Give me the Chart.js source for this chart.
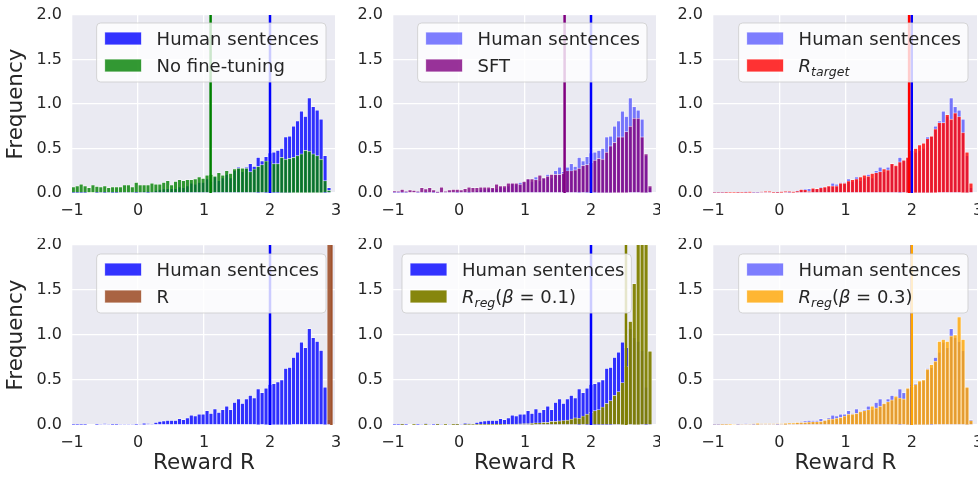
<!DOCTYPE html>
<html>
<head>
<meta charset="utf-8">
<title>Reward histograms</title>
<script src="https://cdn.jsdelivr.net/npm/chart.js@4.4.0/dist/chart.umd.min.js"></script>
<style>
  html, body { margin: 0; padding: 0; background: #fff; overflow: hidden; }
  #wrap { position: relative; width: 978px; height: 477px; }
  canvas { position: absolute; }
</style>
</head>
<body>
<div id="wrap">
  <canvas id="p1" width="340" height="238" style="left:0px;top:0px"></canvas>
  <canvas id="p2" width="320" height="238" style="left:340px;top:0px"></canvas>
  <canvas id="p3" width="318" height="238" style="left:660px;top:0px"></canvas>
  <canvas id="p4" width="340" height="239" style="left:0px;top:238px"></canvas>
  <canvas id="p5" width="320" height="239" style="left:340px;top:238px"></canvas>
  <canvas id="p6" width="318" height="239" style="left:660px;top:238px"></canvas>
</div>
<script>
// histogram bins (66 bins)
const BIN_START = -1.01;
const BIN_WIDTH = 0.0596;
const X_TICKS = [-1, 0, 1, 2, 3];
const Y_TICKS = [0, 0.5, 1, 1.5, 2];

const human = [
  0.005, 0.005, 0.005, 0.005, 0, 0, 0.005, 0.01, 0.015, 0.01,
  0.005, 0.005, 0.01, 0.01, 0.01, 0.01, 0.005, 0.01, 0.02, 0.015,
  0.01, 0.03, 0.04, 0.045, 0.05, 0.05, 0.05, 0.07, 0.06, 0.08,
  0.11, 0.10, 0.12, 0.12, 0.16, 0.13, 0.18, 0.14, 0.17, 0.21,
  0.17, 0.25, 0.29, 0.24, 0.29, 0.33, 0.30, 0.40, 0.36, 0.41,
  0.45, 0.46, 0.48, 0.50, 0.63, 0.64, 0.75, 0.81, 0.92, 0.86,
  1.07, 0.97, 0.93, 0.83, 0.42, 0.06
];
const noFineTuning = [
  0.07, 0.08, 0.10, 0.08, 0.06, 0.09, 0.075, 0.07, 0.08, 0.06,
  0.07, 0.07, 0.07, 0.09, 0.09, 0.07, 0.12, 0.09, 0.09, 0.09,
  0.11, 0.10, 0.10, 0.12, 0.14, 0.09, 0.13, 0.15, 0.14, 0.15,
  0.15, 0.16, 0.18, 0.165, 0.20, 0.21, 0.19, 0.23, 0.20, 0.25,
  0.22, 0.27, 0.28, 0.28, 0.28, 0.24, 0.27, 0.30, 0.32, 0.36,
  0.36, 0.33, 0.33, 0.40, 0.38, 0.39, 0.40, 0.42, 0.44, 0.48,
  0.47, 0.44, 0.42, 0.38, 0.14, 0.03
];
const sft = [
  0.025, 0.02, 0.04, 0.02, 0.035, 0.03, 0.02, 0.06, 0.045, 0.06,
  0.035, 0.015, 0.065, 0.02, 0.035, 0.04, 0.04, 0.035, 0.05, 0.065,
  0.06, 0.06, 0.065, 0.065, 0.065, 0.06, 0.10, 0.08, 0.08, 0.11,
  0.11, 0.11, 0.10, 0.13, 0.16, 0.16, 0.15, 0.20, 0.17, 0.19,
  0.21, 0.21, 0.21, 0.22, 0.25, 0.25, 0.26, 0.28, 0.31, 0.32,
  0.34, 0.37, 0.39, 0.38, 0.46, 0.53, 0.57, 0.63, 0.63, 0.69,
  0.75, 0.84, 0.84, 0.63, 0.44, 0.08
];
const rTarget = [
  0.007, 0.007, 0.007, 0.005, 0.005, 0.003, 0.003, 0.005, 0.005, 0.015,
  0.01, 0.01, 0.012, 0.02, 0.02, 0.008, 0.008, 0.015, 0.02, 0.02,
  0.015, 0.025, 0.04, 0.037, 0.02, 0.055, 0.05, 0.06, 0.07, 0.08,
  0.08, 0.08, 0.11, 0.11, 0.135, 0.15, 0.16, 0.18, 0.20, 0.19,
  0.22, 0.23, 0.24, 0.27, 0.26, 0.33, 0.31, 0.35, 0.37, 0.40,
  0.48, 0.50, 0.54, 0.56, 0.61, 0.64, 0.72, 0.79, 0.79, 0.88,
  0.83, 0.90, 0.86, 0.68, 0.46, 0.11
];
const rPlain = [
  0, 0, 0, 0, 0, 0, 0, 0, 0, 0,
  0, 0, 0, 0, 0, 0, 0, 0, 0, 0,
  0, 0, 0, 0, 0, 0, 0, 0, 0, 0,
  0, 0, 0, 0, 0, 0, 0, 0, 0, 0,
  0, 0, 0, 0, 0, 0, 0, 0, 0, 0,
  0, 0, 0, 0, 0, 0, 0, 0, 0, 0,
  0, 0, 0, 0, 0, 16.5
];
const rReg01 = [
  0, 0, 0.002, 0, 0, 0.002, 0, 0, 0.002, 0,
  0, 0.002, 0, 0.002, 0, 0.002, 0.002, 0, 0.003, 0.003,
  0.003, 0.003, 0.004, 0.004, 0.005, 0.005, 0.005, 0.005, 0.007, 0.008,
  0.008, 0.01, 0.012, 0.015, 0.015, 0.02, 0.025, 0.025, 0.03, 0.03,
  0.04, 0.04, 0.045, 0.05, 0.055, 0.065, 0.08, 0.075, 0.10, 0.12,
  0.14, 0.16, 0.17, 0.20, 0.24, 0.27, 0.33, 0.37, 0.47, 0.65,
  1.15, 1.57, 2.3, 2.6, 2.6, 0.82
];
const rReg03 = [
  0.008, 0.008, 0.005, 0.005, 0.005, 0.008, 0.008, 0.01, 0.008, 0.01,
  0.012, 0.02, 0.012, 0.015, 0.015, 0.012, 0.015, 0.015, 0.02, 0.022,
  0.022, 0.03, 0.03, 0.03, 0.034, 0.037, 0.037, 0.04, 0.052, 0.064,
  0.067, 0.075, 0.085, 0.10, 0.12, 0.12, 0.13, 0.15, 0.16, 0.17,
  0.21, 0.19, 0.21, 0.24, 0.26, 0.28, 0.32, 0.30, 0.29, 0.41,
  0.43, 0.45, 0.49, 0.50, 0.62, 0.67, 0.71, 0.93, 0.95, 0.93,
  0.99, 1.00, 1.20, 0.95, 0.42, 0.05
];

// mean reward lines
const humanMean = 2.0;
const meanNoFineTuning = 1.1;
const meanSft = 1.6;
const meanTarget = 1.96;
const meanPlain = 2.93;
const meanReg01 = 2.53;
const meanReg03 = 2.0;

const TEXT = '#262626';
const FONT = "'DejaVu Sans', sans-serif";
Chart.defaults.font.family = FONT;
Chart.defaults.color = TEXT;

const binCenters = human.map((_, i) => BIN_START + BIN_WIDTH * (i + 0.5));
const toPoints = arr => arr.map((v, i) => ({x: binCenters[i], y: v}));

const panels = [
  {id: 'p1', values: noFineTuning, mean: meanNoFineTuning, fill: 'rgba(0,128,0,0.8)', line: '#008000',
   label: [{t: 'No fine-tuning'}], humanFill: 'rgba(0,0,255,0.8)', loc: 'right',
   yW: 72, padR: 4, top: 15, xH: 45, yTitle: true, xTitle: false},
  {id: 'p2', values: sft, mean: meanSft, fill: 'rgba(128,0,128,0.8)', line: '#800080',
   label: [{t: 'SFT'}], humanFill: 'rgba(0,0,255,0.5)', loc: 'right',
   yW: 53, padR: 3, top: 15, xH: 45, yTitle: false, xTitle: false},
  {id: 'p3', values: rTarget, mean: meanTarget, fill: 'rgba(255,0,0,0.8)', line: '#ff0000',
   label: [{t: 'R', i: true}, {t: 'target', i: true, sub: true}], humanFill: 'rgba(0,0,255,0.5)', loc: 'right',
   yW: 53, padR: 0, top: 15, xH: 45, yTitle: false, xTitle: false},
  {id: 'p4', values: rPlain, mean: meanPlain, fill: 'rgba(160,82,45,0.9)', line: '#a0522d',
   label: [{t: 'R'}], humanFill: 'rgba(0,0,255,0.8)', loc: 'right',
   yW: 72, padR: 4, top: 7, xH: 52, yTitle: true, xTitle: true},
  {id: 'p5', values: rReg01, mean: meanReg01, fill: 'rgba(128,128,0,0.95)', line: '#808000',
   label: [{t: 'R', i: true}, {t: 'reg', i: true, sub: true}, {t: '('}, {t: 'β', i: true}, {t: ' = 0.1)'}],
   humanFill: 'rgba(0,0,255,0.8)', loc: 'left',
   yW: 53, padR: 3, top: 7, xH: 52, yTitle: false, xTitle: true},
  {id: 'p6', values: rReg03, mean: meanReg03, fill: 'rgba(255,165,0,0.8)', line: '#ffa500',
   label: [{t: 'R', i: true}, {t: 'reg', i: true, sub: true}, {t: '('}, {t: 'β', i: true}, {t: ' = 0.3)'}],
   humanFill: 'rgba(0,0,255,0.5)', loc: 'right',
   yW: 53, padR: 0, top: 7, xH: 52, yTitle: false, xTitle: true}
];

const plotBg = {
  id: 'plotBg',
  beforeDraw(chart) {
    const {ctx, chartArea: a} = chart;
    ctx.save();
    ctx.fillStyle = '#eaeaf2';
    ctx.fillRect(a.left, a.top, a.right - a.left, a.bottom - a.top);
    ctx.restore();
  }
};

const LEGEND_SIZE = 18;
function partFont(p) {
  return (p.i ? 'italic ' : '') + (p.sub ? 12.5 : LEGEND_SIZE) + 'px ' + FONT;
}
function partsWidth(ctx, parts) {
  let w = 0;
  parts.forEach(p => { ctx.font = partFont(p); w += ctx.measureText(p.t).width; });
  return w;
}
function drawParts(ctx, parts, x, y) {
  parts.forEach(p => {
    ctx.font = partFont(p);
    ctx.fillText(p.t, x, p.sub ? y + 4 : y);
    x += ctx.measureText(p.t).width;
  });
}

// matplotlib-like framed legend inside the axes
const boxLegend = {
  id: 'boxLegend',
  afterDraw(chart, args, opts) {
    const {ctx, chartArea: a} = chart;
    const items = opts.items;
    ctx.save();
    const textW = Math.max(...items.map(it => partsWidth(ctx, it.parts)));
    const w = 60 + textW + 7, h = 59, r = 4;
    const left = opts.loc === 'left' ? a.left + 9 : a.right - 10 - w;
    const top = a.top + opts.dy;
    ctx.beginPath();
    ctx.moveTo(left + r, top);
    ctx.arcTo(left + w, top, left + w, top + h, r);
    ctx.arcTo(left + w, top + h, left, top + h, r);
    ctx.arcTo(left, top + h, left, top, r);
    ctx.arcTo(left, top, left + w, top, r);
    ctx.closePath();
    ctx.fillStyle = 'rgba(255,255,255,0.8)';
    ctx.fill();
    ctx.lineWidth = 1;
    ctx.strokeStyle = 'rgba(204,204,204,0.8)';
    ctx.stroke();
    items.forEach((it, k) => {
      const cy = top + 15.5 + k * 27;
      ctx.fillStyle = it.color;
      ctx.fillRect(left + 8, cy - 6.5, 37, 13);
      ctx.strokeStyle = 'rgba(255,255,255,0.8)';
      ctx.strokeRect(left + 8, cy - 6.5, 37, 13);
      ctx.fillStyle = TEXT;
      ctx.textBaseline = 'alphabetic';
      drawParts(ctx, it.parts, left + 60, cy + 6.6);
    });
    ctx.restore();
  }
};

function barSet(label, values, fill, order) {
  return {
    label: label,
    data: toPoints(values),
    backgroundColor: fill,
    borderColor: 'rgba(255,255,255,0.8)',
    borderWidth: 0.7,
    barPercentage: 1,
    categoryPercentage: 1,
    grouped: false,
    clip: 0,
    order: order
  };
}
function meanLine(x, color) {
  return {
    type: 'line',
    label: 'mean',
    data: [{x: x, y: 0}, {x: x, y: 2}],
    borderColor: color,
    borderWidth: 2.5,
    pointRadius: 0,
    clip: 0,
    order: 0
  };
}

function makeChart(p) {
  new Chart(document.getElementById(p.id), {
    type: 'bar',
    data: {
      datasets: [
        meanLine(p.mean, p.line),
        meanLine(humanMean, '#0000ff'),
        barSet('model', p.values, p.fill, 1),
        barSet('Human sentences', human, p.humanFill, 2)
      ]
    },
    options: {
      responsive: false,
      animation: false,
      events: [],
      layout: {padding: {top: p.top, right: p.padR, bottom: 0, left: 0}},
      plugins: {
        legend: {display: false},
        tooltip: {enabled: false},
        boxLegend: {
          loc: p.loc,
          dy: p.top === 15 ? 8 : 9,
          items: [
            {color: p.humanFill, parts: [{t: 'Human sentences'}]},
            {color: p.fill, parts: p.label}
          ]
        }
      },
      scales: {
        x: {
          type: 'linear', min: -1, max: 3, offset: false,
          grid: {color: '#ffffff', lineWidth: 1.3, drawTicks: false, offset: false},
          border: {display: false},
          afterBuildTicks: s => { s.ticks = X_TICKS.map(v => ({value: v})); },
          ticks: {
            padding: 8, color: TEXT, font: {size: 16}, maxRotation: 0, autoSkip: false,
            callback: v => v < 0 ? '\u2212' + (-v) : String(v)
          },
          title: {display: p.xTitle, text: 'Reward R', color: TEXT, font: {size: 21.5}, padding: {top: 0, bottom: 1}},
          afterFit: s => { s.height = p.xH; s.paddingLeft = 0; s.paddingRight = 0; }
        },
        y: {
          min: 0, max: 2,
          grid: {color: '#ffffff', lineWidth: 1.3, drawTicks: false},
          border: {display: false},
          afterBuildTicks: s => { s.ticks = Y_TICKS.map(v => ({value: v})); },
          ticks: {padding: 10, color: TEXT, font: {size: 16}, callback: v => v.toFixed(1)},
          title: {display: p.yTitle, text: 'Frequency', color: TEXT, font: {size: 21.5}, padding: {top: 4, bottom: 0}},
          afterFit: s => { s.width = p.yW; s.paddingTop = 0; s.paddingBottom = 0; }
        }
      }
    },
    plugins: [plotBg, boxLegend]
  });
}

panels.forEach(makeChart);
</script>
</body>
</html>
